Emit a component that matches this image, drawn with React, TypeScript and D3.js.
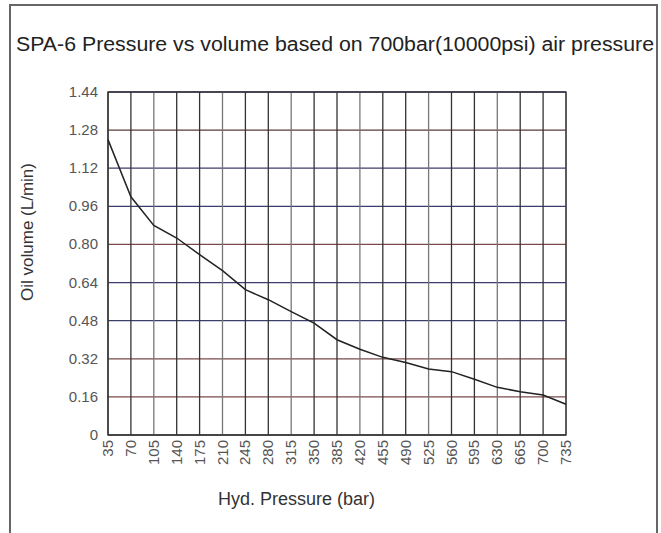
import { useEffect, useRef } from "react";
import * as d3 from "d3";

const pressures = [35, 70, 105, 140, 175, 210, 245, 280, 315, 350, 385, 420, 455, 490, 525, 560, 595, 630, 665, 700, 735];
const volumes = [1.24, 1.0, 0.88, 0.827, 0.757, 0.69, 0.61, 0.568, 0.518, 0.47, 0.4, 0.36, 0.326, 0.304, 0.277, 0.266, 0.234, 0.2, 0.182, 0.168, 0.129];
const yTicks = [0, 0.16, 0.32, 0.48, 0.64, 0.8, 0.96, 1.12, 1.28, 1.44];
const hLineColors = ["#3a3a3a", "#7a4a4a", "#7a4a4a", "#3d3d6e", "#3d3d6e", "#7a4a4a", "#3d3d6e", "#3d3d6e", "#5a3a3a", "#3d3d6e"];

const W = 661;
const H = 533;
const FONT = "Arial, Liberation Sans, sans-serif";

export default function App() {
  const svgRef = useRef<SVGSVGElement>(null);

  useEffect(() => {
    if (!svgRef.current) return;
    const svg = d3.select(svgRef.current);
    svg.selectAll("*").remove();

    const left = 108, right = 566, top = 92, bottom = 435;
    const x = d3.scaleLinear().domain([35, 735]).range([left, right]);
    const y = d3.scaleLinear().domain([0, 1.44]).range([bottom, top]);

    svg.append("rect").attr("width", W).attr("height", H).attr("fill", "#fff");

    // outer frame
    svg.append("path")
      .attr("d", `M10,${H} V5 H657 V${H}`)
      .attr("fill", "none")
      .attr("stroke", "#666")
      .attr("stroke-width", 2);

    svg.append("text")
      .attr("x", 16).attr("y", 51)
      .attr("font-family", FONT)
      .attr("font-size", 20)
      .attr("textLength", 638)
      .attr("lengthAdjust", "spacingAndGlyphs")
      .attr("fill", "#222")
      .text("SPA-6 Pressure vs volume based on 700bar(10000psi) air pressure");

    const g = svg.append("g");

    // horizontal grid
    g.selectAll("line.h")
      .data(yTicks)
      .join("line")
      .attr("class", "h")
      .attr("x1", left).attr("x2", right)
      .attr("y1", (d) => y(d)).attr("y2", (d) => y(d))
      .attr("stroke", (_, i) => hLineColors[i])
      .attr("stroke-width", 1.3);

    // vertical grid
    g.selectAll("line.v")
      .data(pressures)
      .join("line")
      .attr("class", "v")
      .attr("x1", (d) => x(d)).attr("x2", (d) => x(d))
      .attr("y1", top).attr("y2", bottom)
      .attr("stroke", (_, i) => (i % 3 === 2 ? "#777" : "#333"))
      .attr("stroke-width", 1.3);

    // frame of plot
    g.append("rect")
      .attr("x", left).attr("y", top)
      .attr("width", right - left).attr("height", bottom - top)
      .attr("fill", "none").attr("stroke", "#333").attr("stroke-width", 1.3);

    // y tick labels
    g.selectAll("text.yt")
      .data(yTicks)
      .join("text")
      .attr("class", "yt")
      .attr("x", 98)
      .attr("y", (d) => y(d) + 5)
      .attr("text-anchor", "end")
      .attr("font-family", FONT)
      .attr("font-size", 15)
      .attr("fill", "#555")
      .text((d) => (d === 0 ? "0" : d.toFixed(2)));

    // x tick labels
    g.selectAll("text.xt")
      .data(pressures)
      .join("text")
      .attr("class", "xt")
      .attr("transform", (d) => `translate(${x(d) + 5},${bottom + 5}) rotate(-90)`)
      .attr("text-anchor", "end")
      .attr("font-family", FONT)
      .attr("font-size", 15)
      .attr("fill", "#555")
      .text((d) => String(d));

    // axis titles
    svg.append("text")
      .attr("x", 218).attr("y", 505)
      .attr("font-family", FONT)
      .attr("font-size", 18)
      .attr("fill", "#333")
      .text("Hyd. Pressure (bar)");

    svg.append("text")
      .attr("transform", `translate(33,232) rotate(-90)`)
      .attr("text-anchor", "middle")
      .attr("font-family", FONT)
      .attr("font-size", 17)
      .attr("fill", "#333")
      .text("Oil volume (L/min)");

    const line = d3.line<number>()
      .x((_, i) => x(pressures[i]))
      .y((d) => y(d));

    g.append("path")
      .datum(volumes)
      .attr("d", line)
      .attr("fill", "none")
      .attr("stroke", "#222")
      .attr("stroke-width", 1.5);
  }, []);

  return (
    <div style={{ position: "absolute", left: 0, top: 0 }}>
      <svg ref={svgRef} width={W} height={H} style={{ display: "block" }} />
    </div>
  );
}
